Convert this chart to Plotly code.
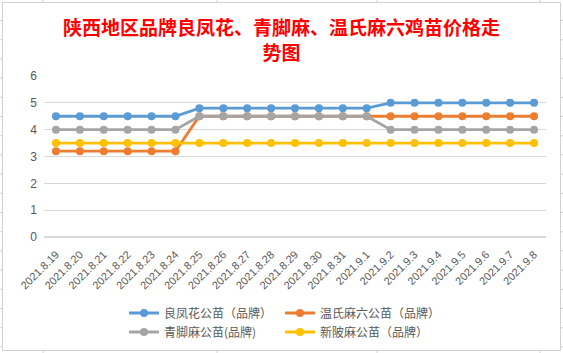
import plotly.graph_objects as go

dates = ["2021.8.19", "2021.8.20", "2021.8.21", "2021.8.22", "2021.8.23", "2021.8.24",
         "2021.8.25", "2021.8.26", "2021.8.27", "2021.8.28", "2021.8.29", "2021.8.30",
         "2021.8.31", "2021.9.1", "2021.9.2", "2021.9.3", "2021.9.4", "2021.9.5",
         "2021.9.6", "2021.9.7", "2021.9.8"]

liangfenghua = [4.5, 4.5, 4.5, 4.5, 4.5, 4.5, 4.8, 4.8, 4.8, 4.8, 4.8, 4.8, 4.8, 4.8,
                5.0, 5.0, 5.0, 5.0, 5.0, 5.0, 5.0]
wenshi = [3.2, 3.2, 3.2, 3.2, 3.2, 3.2, 4.5, 4.5, 4.5, 4.5, 4.5, 4.5, 4.5, 4.5,
          4.5, 4.5, 4.5, 4.5, 4.5, 4.5, 4.5]
qingjiaoma = [4.0, 4.0, 4.0, 4.0, 4.0, 4.0, 4.5, 4.5, 4.5, 4.5, 4.5, 4.5, 4.5, 4.5,
              4.0, 4.0, 4.0, 4.0, 4.0, 4.0, 4.0]
xinpima = [3.5, 3.5, 3.5, 3.5, 3.5, 3.5, 3.5, 3.5, 3.5, 3.5, 3.5, 3.5, 3.5, 3.5,
           3.5, 3.5, 3.5, 3.5, 3.5, 3.5, 3.5]

series = [
    ("良凤花公苗（品牌）", liangfenghua, "#5B9BD5", "legend"),
    ("温氏麻六公苗（品牌）", wenshi, "#ED7D31", "legend"),
    ("青脚麻公苗(品牌)", qingjiaoma, "#A5A5A5", "legend2"),
    ("新陂麻公苗（品牌）", xinpima, "#FFC000", "legend2"),
]

W, H = 563, 353
ML, MR, MT, MB = 44, 17, 76, 116
PW, PH = W - ML - MR, H - MT - MB


def px_x(px):
    return (px - ML) / PW


def px_y(py):
    return (H - MB - py) / PH


fig = go.Figure()
for name, vals, color, lg in series:
    fig.add_trace(go.Scatter(
        x=dates, y=vals, name=name, mode="lines+markers",
        line=dict(color=color, width=2.8),
        marker=dict(color=color, size=8),
        legend=lg,
    ))

shapes = [dict(type="rect", xref="paper", yref="paper",
               x0=px_x(2.5), x1=px_x(560.5), y0=px_y(350.5), y1=px_y(2.5),
               line=dict(color="#D0D0D0", width=1), layer="below")]
# surrounding spreadsheet cell lines
for xv in [43, 217, 377, 540]:
    shapes.append(dict(type="line", xref="paper", yref="paper",
                       x0=px_x(xv), x1=px_x(xv), y0=px_y(0), y1=px_y(2.5),
                       line=dict(color="#D0D0D0", width=1)))
    shapes.append(dict(type="line", xref="paper", yref="paper",
                       x0=px_x(xv), x1=px_x(xv), y0=px_y(350.5), y1=px_y(353),
                       line=dict(color="#D0D0D0", width=1)))
for k in range(0, 18):
    yv = 20.5 + 19.2 * k
    shapes.append(dict(type="line", xref="paper", yref="paper",
                       x0=px_x(0), x1=px_x(2.5), y0=px_y(yv), y1=px_y(yv),
                       line=dict(color="#D0D0D0", width=1)))
    shapes.append(dict(type="line", xref="paper", yref="paper",
                       x0=px_x(560.5), x1=px_x(563), y0=px_y(yv), y1=px_y(yv),
                       line=dict(color="#D0D0D0", width=1)))

legend_common = dict(orientation="h", xanchor="left", yanchor="middle",
                     xref="container", yref="container",
                     font=dict(size=12, color="#595959",
                               family="Noto Sans CJK SC, Liberation Sans"),
                     entrywidth=111, bgcolor="rgba(0,0,0,0)", itemclick=False)

fig.update_layout(
    width=W, height=H,
    margin=dict(l=ML, r=MR, t=MT, b=MB, pad=0),
    paper_bgcolor="white", plot_bgcolor="white",
    font=dict(family="Liberation Sans, Noto Sans CJK SC", color="#595959"),
    title=dict(text="陕西地区品牌良凤花、青脚麻、温氏麻六鸡苗价格走<br>势图",
               x=0.5, xref="container", xanchor="center",
               y=1 - 35 / H, yref="container", yanchor="top",
               font=dict(size=19, color="#FF0000",
                         family="Noto Sans CJK SC", weight="bold")),
    xaxis=dict(type="category", tickangle=-45, showgrid=False, showline=False,
               zeroline=False, ticks="", tickfont=dict(size=11, color="#595959"),
               ticklabelstandoff=8,
               range=[-0.5, len(dates) - 0.5], automargin=False),
    yaxis=dict(range=[0, 6], dtick=1, showgrid=True, gridcolor="#D9D9D9",
               gridwidth=1, zeroline=True, zerolinecolor="#D9D9D9",
               showline=False, ticks="", ticklabelstandoff=6, automargin=False,
               tickfont=dict(size=12, color="#595959")),
    legend=dict(x=124 / W, y=1 - 313 / H, **legend_common),
    legend2=dict(x=124 / W, y=1 - 332 / H, **legend_common),
    shapes=shapes,
    showlegend=True,
)

fig.write_html("out.html")
